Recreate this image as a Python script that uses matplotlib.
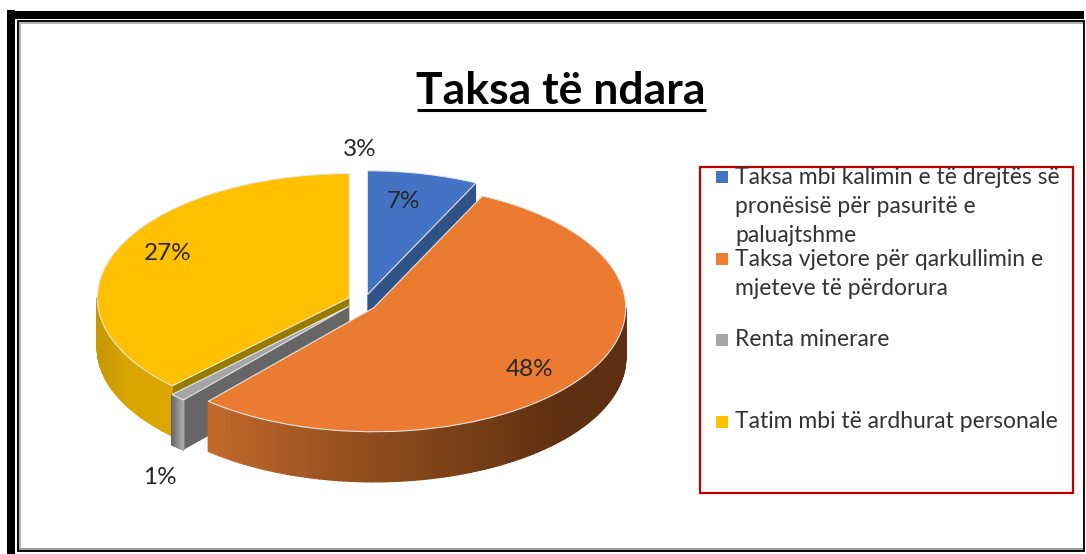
"""
Taksa te ndara - 3D looking pie, drawn with ax.pie plus side walls
"""
import numpy as np
import matplotlib
matplotlib.use('Agg')
import matplotlib.pyplot as plt
from matplotlib.collections import PolyCollection
from matplotlib.colors import LinearSegmentedColormap
from matplotlib.patches import Rectangle

plt.rcParams['font.family'] = ['Lato', 'DejaVu Sans']

W, H = 1086, 554

names = ['Taksa mbi kalimin e të drejtës së\npronësisë për pasuritë e\npaluajtshme',
         'Taksa vjetore për qarkullimin e\nmjeteve të përdorura',
         'Renta minerare',
         'Tatim mbi të ardhurat personale']
shares = [7.1, 54.3, 1.0, 37.6]
explode = [0.06, 0.07, 0.07, 0.05]
# small extra shift of each slice, pixels
nudge_px = [(4, 2), (-1, 3), (1, 0), (1, 0)]

# the printed labels do not add up to 100 in the source
pct_labels = ['7%', '48%', '1%', '27%', '3%']
pct_pos = [(403, 202), (530, 369), (160, 477), (168, 253), (360, 150)]

top_colors = ['#4472C4', '#EA7B30', '#A5A5A5', '#FFC000']
cut_colors = ['#2F5287', '#A0561F', '#666666', '#997A00']
legend_colors = ['#4472C4', '#ED7D31', '#A5A5A5', '#FFC000']
wall_cmaps = [
    ['#2F5287', '#2F5287'],
    ['#5E2F10', '#5E2F10', '#8A4A1C', '#C4692C'],
    ['#666666', '#A8A8A8'],
    ['#C89A00', '#C89A00', '#DBA600', '#DBA600'],
]

# pie centre and radii in pixels, depth of the side wall
cx, cy, rx, ry, depth_px = 360, 300, 252, 124, 50
depth = depth_px / ry

fig = plt.figure(figsize=(W / 100, H / 100), dpi=100)
fig.patch.set_facecolor('white')

ax = fig.add_axes([0, 0, 1, 1], zorder=1)
wedges, _ = ax.pie(shares, explode=explode, colors=top_colors, startangle=90,
                   counterclock=False,
                   wedgeprops=dict(edgecolor='#E6E6E6', linewidth=0.8))
ax.set_aspect('auto')
ax.set_xlim(-cx / rx, (W - cx) / rx)
ax.set_ylim((cy - H) / ry, cy / ry)

# painter's order, back to front: blue, yellow, grey, orange
for z, i in enumerate([0, 3, 2, 1]):
    w = wedges[i]
    w.set_center((w.center[0] + nudge_px[i][0] / rx, w.center[1] - nudge_px[i][1] / ry))
    x0, y0 = w.center
    base = 10 * z + 1

    # the two cut faces
    for a in (w.theta1, w.theta2):
        ex = x0 + np.cos(np.radians(a))
        ey = y0 + np.sin(np.radians(a))
        ax.fill([x0, ex, ex, x0], [y0, ey, ey - depth, y0 - depth],
                color=cut_colors[i], lw=0, zorder=base)

    # outer wall, only the part turned to the viewer
    t1 = w.theta1 % 360
    t2 = t1 + (w.theta2 - w.theta1)
    lo, hi = max(t1, 180), min(t2, 360)
    if hi > lo:
        ang = np.radians(np.linspace(lo, hi, 120))
        px = x0 + np.cos(ang)
        py = y0 + np.sin(ang)
        quads = [[(px[k], py[k]), (px[k + 1], py[k + 1]),
                  (px[k + 1], py[k + 1] - depth), (px[k], py[k] - depth)]
                 for k in range(len(ang) - 1)]
        cmap = LinearSegmentedColormap.from_list('wall', wall_cmaps[i])
        pos = (ang[:-1] - ang[0]) / (ang[-1] - ang[0])
        if i == 1:
            pos = 1 - pos
        shades = cmap(pos)
        ax.add_collection(PolyCollection(quads, facecolors=shades, edgecolors=shades,
                                         linewidths=1.0, zorder=base + 1))
    w.set_zorder(base + 2)

# overlay in pixel coordinates for frame, title, labels and legend
top = fig.add_axes([0, 0, 1, 1], zorder=2)
top.set_xlim(0, W)
top.set_ylim(H, 0)
top.axis('off')

frame = [(7, 10, 8, 544, 'black'), (7, 11, 1077, 8, 'black'),
         (17, 20, 2, 532, '#111111'), (17, 20, 1067, 2, '#111111'),
         (19, 22, 2, 528, '#B5B5B5'), (19, 22, 1064, 2, '#B5B5B5'),
         (19, 548, 1064, 2, '#9A9A9A'), (17, 550, 1067, 2, '#111111'),
         (1083, 20, 2, 532, '#111111')]
for fx, fy, fw, fh, fc in frame:
    top.add_patch(Rectangle((fx, fy), fw, fh, facecolor=fc, edgecolor='none'))

top.text(561, 91, 'Taksa të ndara', fontsize=32, fontweight='bold', color='black',
         ha='center', va='center')
top.plot([417, 706], [110, 110], color='black', lw=2.2, solid_capstyle='butt')

for s, (lx, ly) in zip(pct_labels, pct_pos):
    top.text(lx, ly, s, fontsize=17.5, color='#262626', ha='center', va='center')

# legend box
top.add_patch(Rectangle((699.5, 167), 373, 326, facecolor='none', edgecolor='#C00000', lw=1.6))
legend_y = [177, 259, 340, 422]
for name, c, ly in zip(names, legend_colors, legend_y):
    top.add_patch(Rectangle((716, ly - 6), 12, 12, facecolor=c, edgecolor='none'))
    for n, line in enumerate(name.split('\n')):
        top.text(735, ly + n * 29.5, line, fontsize=16.5, color='#333333', ha='left', va='center')

fig.savefig('out.png', dpi=100)
